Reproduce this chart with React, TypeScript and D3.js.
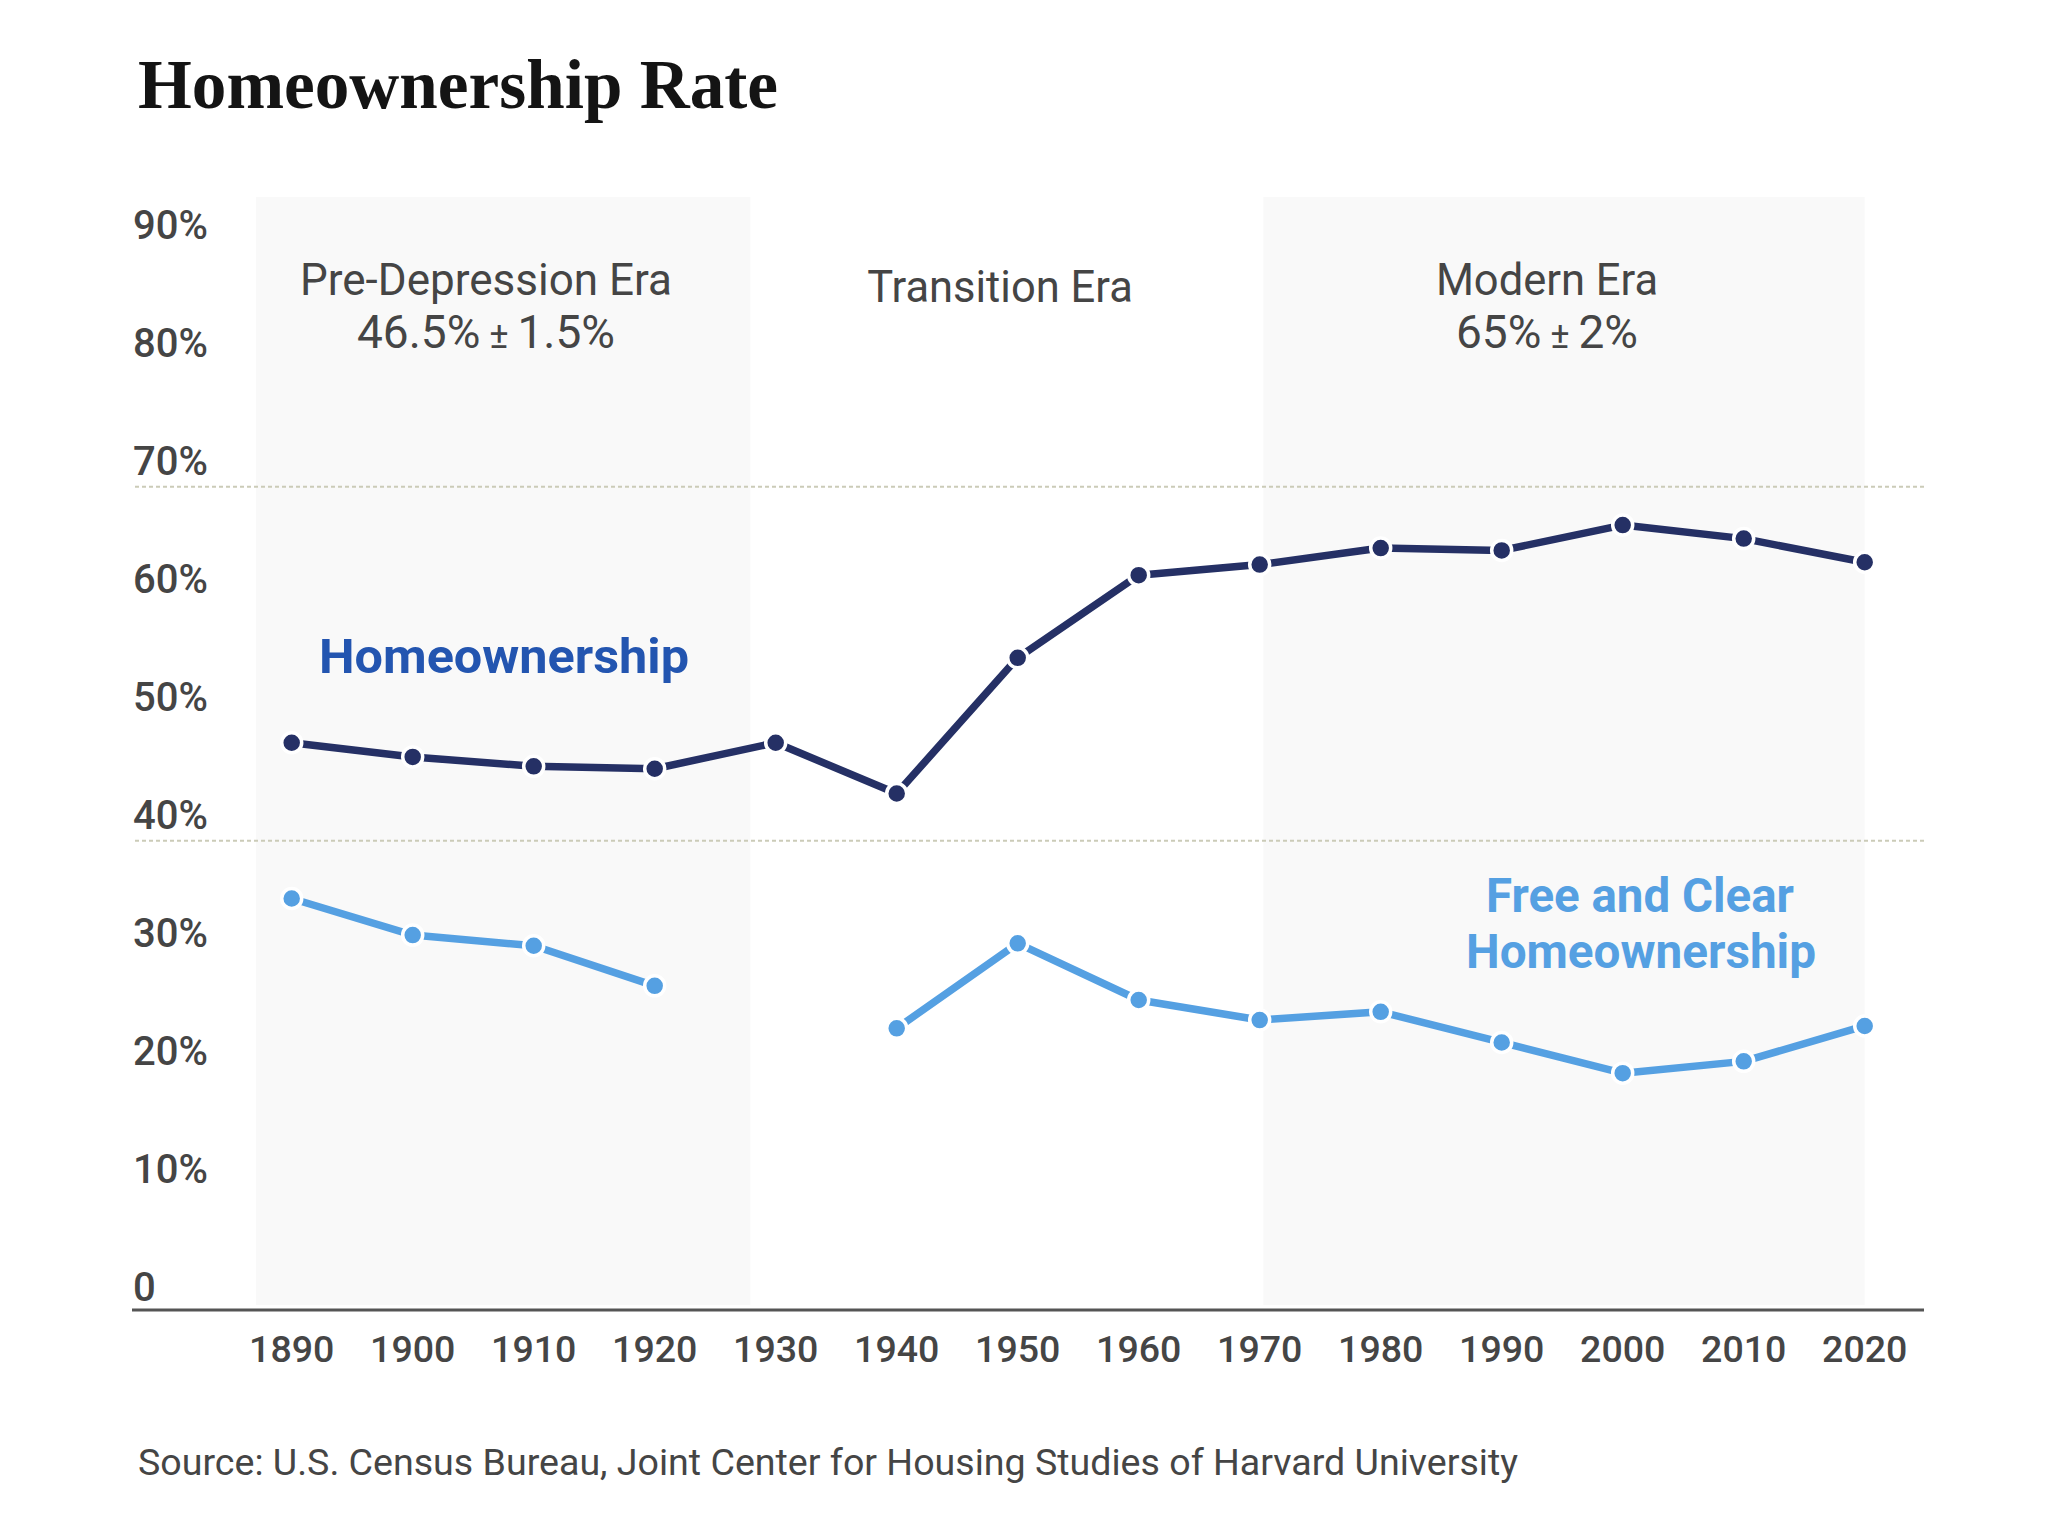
import React from "react";
import * as d3 from "d3";

const years = [1890, 1900, 1910, 1920, 1930, 1940, 1950, 1960, 1970, 1980, 1990, 2000, 2010, 2020];
const homeownership = [48.3, 47.1, 46.3, 46.1, 48.3, 44.0, 55.5, 62.5, 63.4, 64.8, 64.6, 66.75, 65.6, 63.6];
const freeAndClear: (number | null)[] = [35.1, 32.0, 31.1, 27.7, null, 24.1, 31.3, 26.5, 24.8, 25.5, 22.9, 20.3, 21.3, 24.3];
const yTicks = [0, 10, 20, 30, 40, 50, 60, 70, 80, 90];
const gridValues = [40, 70];
const eraBands = [
  { start: 1887.05, end: 1927.9 },
  { start: 1970.3, end: 2020 },
];

const W = 2054;
const H = 1524;
const SANS = "Roboto, 'Noto Sans', sans-serif";
const DARK = "#253065";
const LIGHT = "#55A0E2";

export default function App() {
  const x = d3.scaleLinear().domain([1890, 2020]).range([291.7, 1864.7]);
  const y = d3.scaleLinear().domain([0, 90]).range([1312.7, 250.7]);

  const darkPts = years.map((yr, i) => ({ yr, v: homeownership[i] as number | null }));
  const lightPts = years.map((yr, i) => ({ yr, v: freeAndClear[i] }));

  const line = d3
    .line<{ yr: number; v: number | null }>()
    .defined((d) => d.v !== null)
    .x((d) => x(d.yr))
    .y((d) => y(d.v as number));

  const bandTop = 197;
  const bandBottom = 1305;
  const axisY = 1310;
  const axisLeft = 132;
  const axisRight = 1924;

  return (
    <svg
      width={W}
      height={H}
      viewBox={`0 0 ${W} ${H}`}
      style={{ position: "absolute", left: 0, top: 0, background: "#fff" }}
    >
      <rect x={0} y={0} width={W} height={H} fill="#fff" />
      {eraBands.map((b, i) => (
        <rect
          key={i}
          x={x(b.start)}
          y={bandTop}
          width={x(b.end) - x(b.start)}
          height={bandBottom - bandTop}
          fill="#F9F9F9"
        />
      ))}

      {/* Title */}
      <text
        x={138}
        y={108}
        fontFamily="'Liberation Serif', 'DejaVu Serif', serif"
        fontWeight={700}
        fontSize={70}
        fill="#141414"
        textLength={640}
        lengthAdjust="spacingAndGlyphs"
      >
        Homeownership Rate
      </text>

      {/* Gridlines */}
      {gridValues.map((g) => (
        <line
          key={g}
          x1={135}
          x2={axisRight}
          y1={y(g)}
          y2={y(g)}
          stroke="#CBCBB8"
          strokeWidth={2}
          strokeDasharray="4 3"
        />
      ))}

      {/* Y labels */}
      {yTicks.map((t) => (
        <text
          key={t}
          x={133}
          y={y(t) - 12}
          fontFamily={SANS}
          fontWeight={500}
          fontSize={40}
          fill="#454545"
        >
          {t === 0 ? "0" : `${t}%`}
        </text>
      ))}

      {/* Era labels */}
      <g fontFamily={SANS} fill="#454545" textAnchor="middle">
        <text x={486} y={295} fontSize={44}>Pre-Depression Era</text>
        <text x={486} y={348} fontSize={46}>
          46.5%
          <tspan fontSize={36}> ± </tspan>
          1.5%
        </text>
        <text x={1000} y={302} fontSize={43.5}>Transition Era</text>
        <text x={1547} y={295} fontSize={43.5}>Modern Era</text>
        <text x={1547} y={348} fontSize={46}>
          65%
          <tspan fontSize={36}> ± </tspan>
          2%
        </text>
      </g>

      {/* Axis */}
      <line x1={axisLeft} x2={axisRight} y1={axisY} y2={axisY} stroke="#555" strokeWidth={3} />
      {years.map((yr) => (
        <text
          key={yr}
          x={x(yr)}
          y={1362}
          textAnchor="middle"
          fontFamily={SANS}
          fontWeight={500}
          fontSize={37.5}
          fill="#454545"
        >
          {yr}
        </text>
      ))}

      {/* Lines */}
      <path d={line(darkPts) || ""} fill="none" stroke={DARK} strokeWidth={7.5} strokeLinejoin="round" />
      <path d={line(lightPts) || ""} fill="none" stroke={LIGHT} strokeWidth={7.5} strokeLinejoin="round" />
      {darkPts.map((d) => (
        <circle key={"d" + d.yr} cx={x(d.yr)} cy={y(d.v as number)} r={10} fill={DARK} stroke="#fff" strokeWidth={3.5} />
      ))}
      {lightPts
        .filter((d) => d.v !== null)
        .map((d) => (
          <circle key={"l" + d.yr} cx={x(d.yr)} cy={y(d.v as number)} r={10} fill={LIGHT} stroke="#fff" strokeWidth={3.5} />
        ))}

      {/* Series labels */}
      <text
        x={319}
        y={673}
        fontFamily={SANS}
        fontWeight={700}
        fontSize={49}
        fill="#2355B0"
        textLength={370}
        lengthAdjust="spacingAndGlyphs"
      >
        Homeownership
      </text>
      <g fontFamily={SANS} fontWeight={700} fontSize={48} fill={LIGHT} textAnchor="middle">
        <text x={1640} y={912} textLength={308} lengthAdjust="spacingAndGlyphs">Free and Clear</text>
        <text x={1641} y={968} textLength={350} lengthAdjust="spacingAndGlyphs">Homeownership</text>
      </g>

      {/* Source */}
      <text
        x={138}
        y={1475}
        fontFamily={SANS}
        fontSize={37.5}
        fill="#454545"
        textLength={1380}
        lengthAdjust="spacingAndGlyphs"
      >
        Source: U.S. Census Bureau, Joint Center for Housing Studies of Harvard University
      </text>
    </svg>
  );
}
